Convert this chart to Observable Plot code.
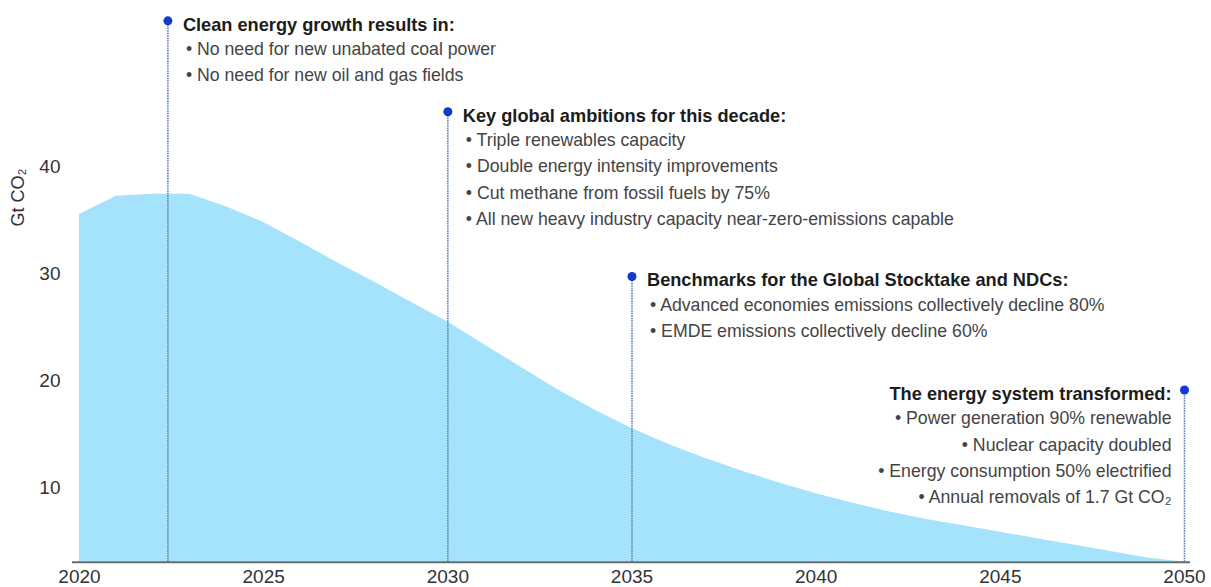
<!DOCTYPE html>
<html>
<head>
<meta charset="utf-8">
<script src="https://cdn.jsdelivr.net/npm/d3@7"></script>
<script src="https://cdn.jsdelivr.net/npm/@observablehq/plot@0.6"></script>
<style>
  html, body { margin: 0; padding: 0; background: #ffffff; }
  #chart svg { display: block; }
</style>
</head>
<body>
<div id="chart"></div>
<script>
// ---- Data ----
const years = [2020, 2021, 2022, 2023, 2024, 2025, 2026, 2027, 2028, 2029, 2030,
               2031, 2032, 2033, 2034, 2035, 2036, 2037, 2038, 2039, 2040,
               2041, 2042, 2043, 2044, 2045, 2046, 2047, 2048, 2049, 2050];
const emissions = [35.6, 37.3, 37.5, 37.5, 36.3, 34.85, 33.0, 31.1, 29.3, 27.4, 25.55,
                   23.4, 21.3, 19.2, 17.3, 15.6, 14.1, 12.8, 11.6, 10.5, 9.5,
                   8.6, 7.8, 7.1, 6.5, 5.9, 5.3, 4.7, 4.1, 3.5, 3.1];

const xTicks = [2020, 2025, 2030, 2035, 2040, 2045, 2050];
const yTicks = [10, 20, 30, 40];
const yDomain = [3.1, 55.6];
const yLabel = "Gt CO₂";

const markerYears = [2022.4, 2030, 2035, 2050];
const markerHeights = [53.7, 45.2, 29.8, 19.2];
const markerTitles = [
  "Clean energy growth results in:",
  "Key global ambitions for this decade:",
  "Benchmarks for the Global Stocktake and NDCs:",
  "The energy system transformed:"
];
const markerBullets = [
  ["No need for new unabated coal power", "No need for new oil and gas fields"],
  ["Triple renewables capacity", "Double energy intensity improvements",
   "Cut methane from fossil fuels by 75%", "All new heavy industry capacity near-zero-emissions capable"],
  ["Advanced economies emissions collectively decline 80%", "EMDE emissions collectively decline 60%"],
  ["Power generation 90% renewable", "Nuclear capacity doubled",
   "Energy consumption 50% electrified", "Annual removals of 1.7 Gt CO₂"]
];

// ---- Tables built from the arrays ----
const series = years.map((year, i) => ({year, value: emissions[i]}));
const markers = markerYears.map((year, i) => ({
  year, height: markerHeights[i], title: markerTitles[i],
  bullets: markerBullets[i].map(b => "• " + b).join("\n")
}));
const lastYear = years[years.length - 1];
const leftSide = markers.filter(d => d.year < lastYear);
const rightSide = markers.filter(d => d.year >= lastYear);

const font = "'Liberation Sans', Arial, Helvetica, sans-serif";

const chart = Plot.plot({
  width: 1211,
  height: 587,
  marginTop: 0,
  marginBottom: 25.3,
  marginLeft: 79,
  marginRight: 27,
  style: {fontFamily: font, background: "#ffffff", color: "#333333", overflow: "visible"},
  x: {domain: [years[0], lastYear]},
  y: {domain: yDomain},
  marks: [
    Plot.areaY(series, {x: "year", y: "value", fill: "#a4e3fb", clip: true}),
    Plot.ruleX(markers, {x: "year", y1: yDomain[0], y2: "height", stroke: "#5a78b8",
      strokeWidth: 1.6, strokeDasharray: "1.5,1"}),
    Plot.ruleY([yDomain[0]], {stroke: "#6a6a6a", strokeWidth: 2, insetLeft: -7, insetRight: -6}),
    Plot.dot(markers, {x: "year", y: "height", r: 4.5, fill: "#1538cf", stroke: "none"}),
    Plot.text(leftSide, {x: "year", y: "height", text: "title", textAnchor: "start", dx: 15, dy: 4,
      fontWeight: "bold", fontSize: 18.2, fill: "#1c1c1c"}),
    Plot.text(leftSide, {x: "year", y: "height", text: "bullets", textAnchor: "start", dx: 18, dy: 15.5,
      lineAnchor: "top", lineHeight: 1.49, fontSize: 17.7, fill: "#444444"}),
    Plot.text(rightSide, {x: "year", y: "height", text: "title", textAnchor: "end", dx: -13, dy: 4,
      fontWeight: "bold", fontSize: 18.2, fill: "#1c1c1c"}),
    Plot.text(rightSide, {x: "year", y: "height", text: "bullets", textAnchor: "end", dx: -13, dy: 15.5,
      lineAnchor: "top", lineHeight: 1.49, fontSize: 17.7, fill: "#444444"}),
    Plot.axisX({ticks: xTicks, tickFormat: d => String(d), tickSize: 0, tickPadding: 7.5,
      fontSize: 19, label: null, fill: "#333333"}),
    Plot.axisY({ticks: yTicks, tickSize: 0, tickPadding: 19, fontSize: 19, label: null, fill: "#333333"}),
    Plot.text([yLabel], {frameAnchor: "top-left", text: d => d, rotate: -90, dx: -61, dy: 197,
      textAnchor: "middle", lineAnchor: "middle", fontSize: 18, fill: "#333333"})
  ]
});
document.getElementById("chart").appendChild(chart);
</script>
</body>
</html>
